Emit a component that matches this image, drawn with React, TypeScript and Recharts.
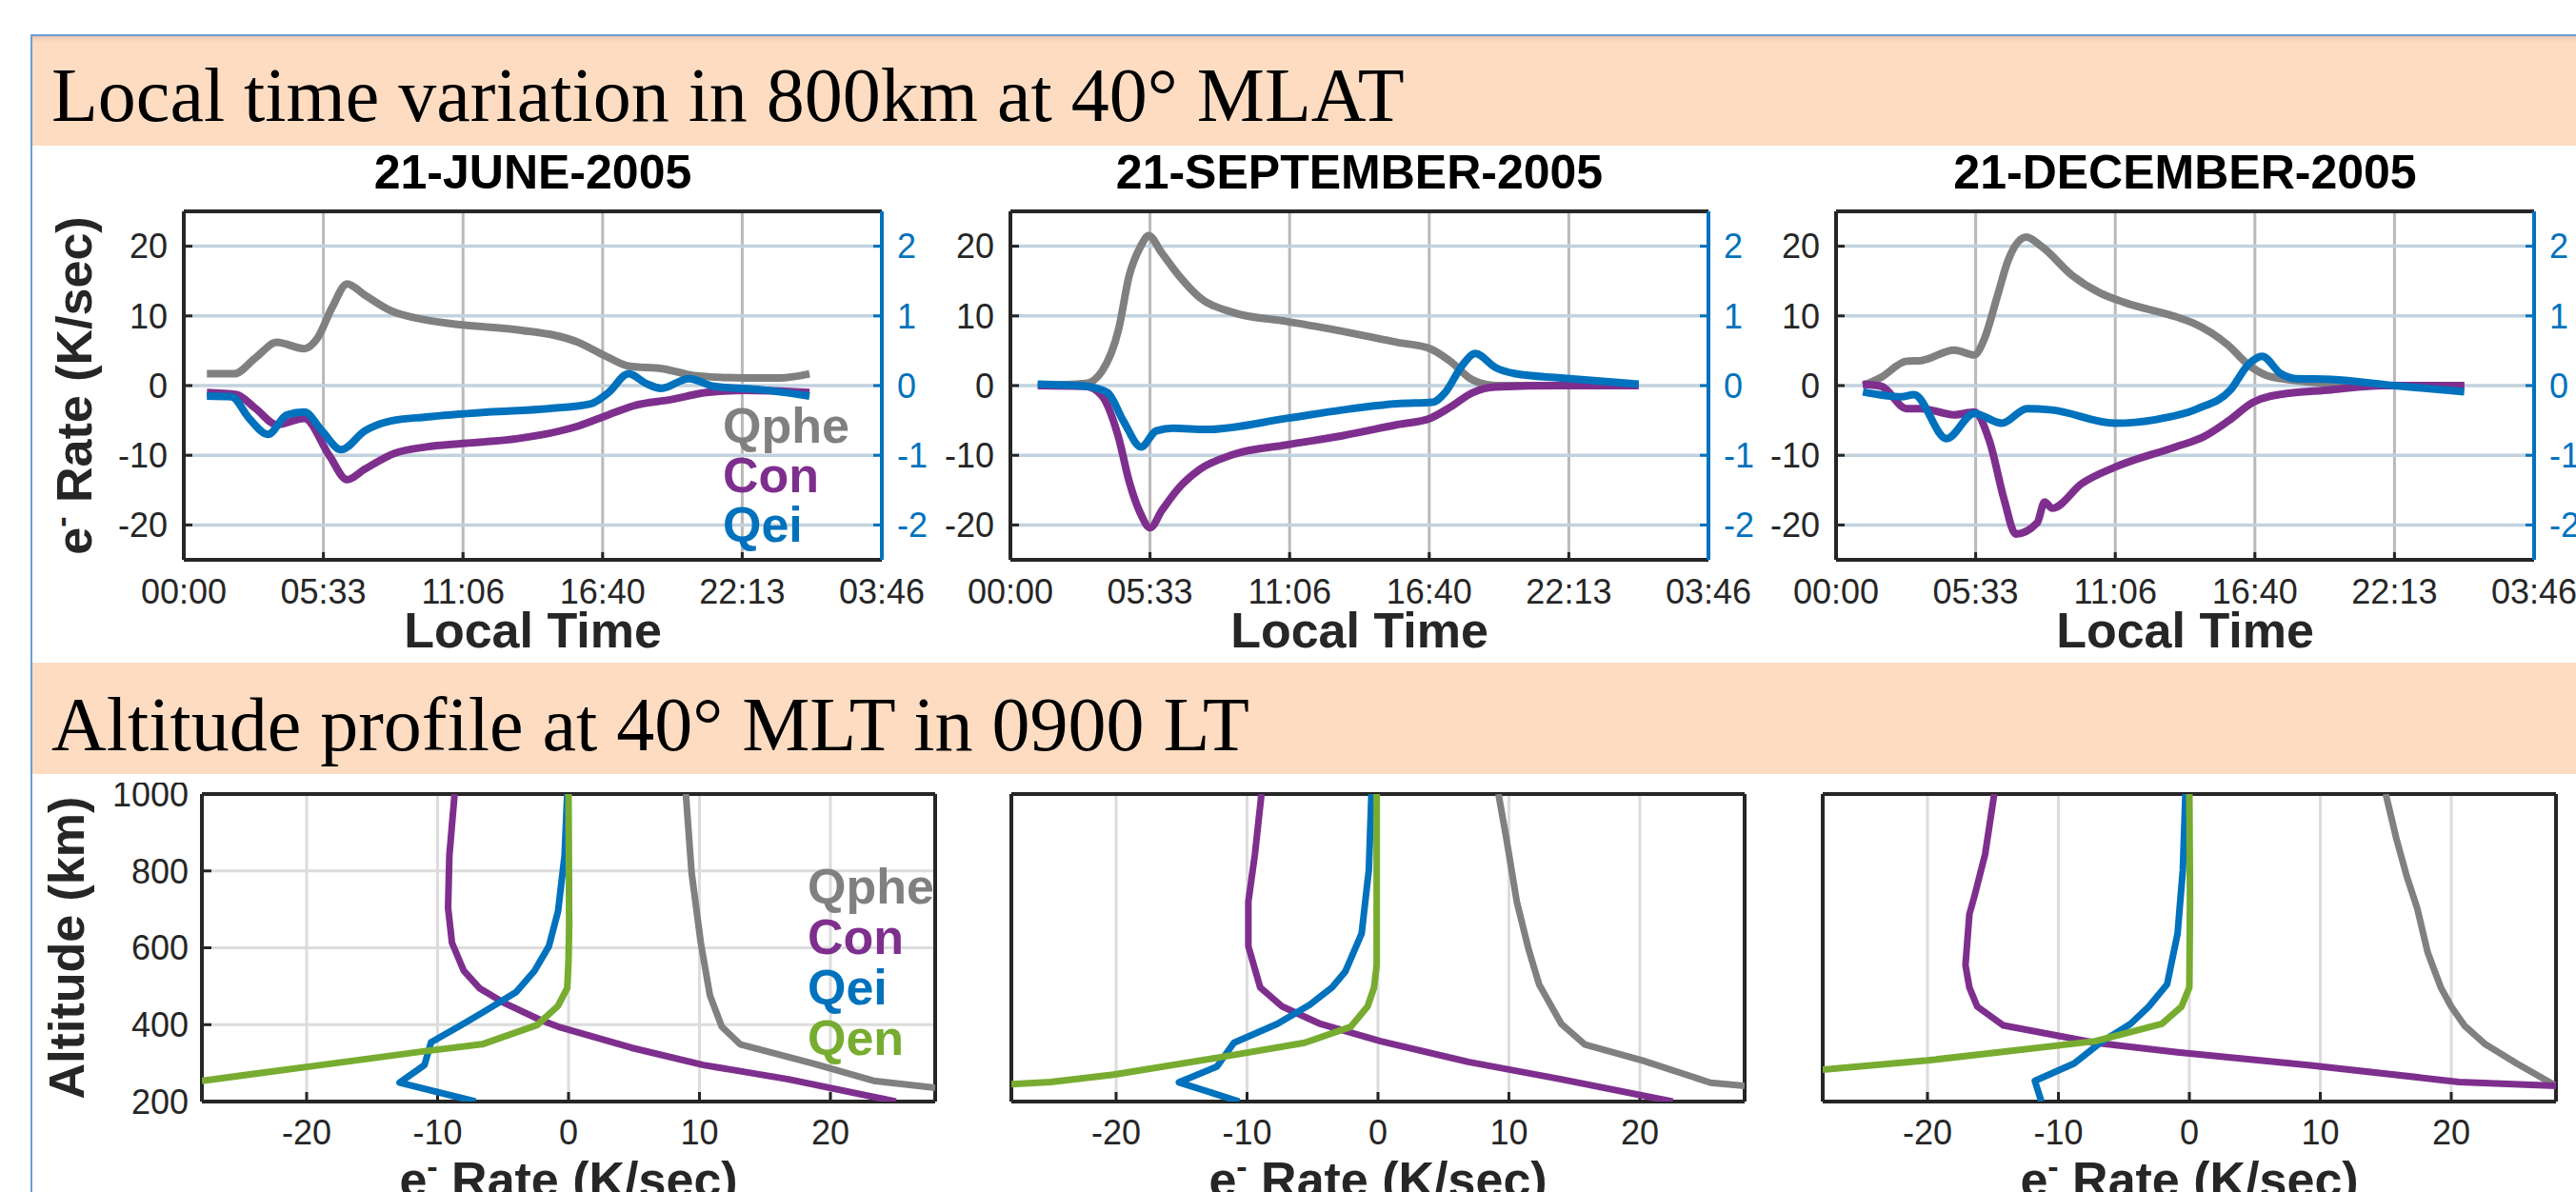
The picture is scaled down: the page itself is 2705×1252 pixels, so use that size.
import React from 'react';
import { ScatterChart, Scatter, XAxis, YAxis, CartesianGrid, Legend } from 'recharts';

// ---- axis ticks ----
const timeTicks = [0, 5.5556, 11.1111, 16.6667, 22.2222, 27.7778];
const timeTickLabels = ['00:00', '05:33', '11:06', '16:40', '22:13', '03:46'];
const rateTicks = [-20, -10, 0, 10, 20];
const qeiTicks = [-2, -1, 0, 1, 2];
const profileRateTicks = [-20, -10, 0, 10, 20];
const altitudeTicks = [200, 400, 600, 800, 1000];

const seasonTitles = ['21-JUNE-2005', '21-SEPTEMBER-2005', '21-DECEMBER-2005'];
const seriesNames = ['Qphe', 'Con', 'Qei', 'Qen'];
const seriesColors = ['#808080', '#7E2F8E', '#0072BD', '#77AC30'];

type Pt = [number, number];

// ---- local time variation: [hour, K/sec]  (Qei in right-axis units) ----
const juneQphe: Pt[] = [[0.92, 1.7], [2.0, 1.7], [2.86, 4.0], [3.7, 6.2], [4.8, 5.3], [5.3, 6.7], [5.9, 11.2], [6.5, 14.6], [7.2, 13.0], [8.2, 10.8], [9.65, 9.4], [11.1, 8.7], [13.3, 8.0], [15.7, 6.2], [16.7, 4.4], [17.7, 2.8], [19.1, 2.4], [20.3, 1.45], [22.3, 1.1], [23.7, 1.1], [24.9, 1.7]];
const juneCon: Pt[] = [[0.92, -1.0], [2.1, -1.3], [2.86, -3.3], [3.7, -5.6], [4.8, -4.7], [5.8, -10.1], [6.5, -13.5], [7.2, -12.0], [8.4, -9.7], [9.65, -8.8], [11.1, -8.3], [13.3, -7.6], [15.7, -5.8], [16.9, -4.2], [17.9, -2.9], [19.4, -2.0], [20.8, -1.0], [22.3, -0.7], [24.9, -1.0]];
const juneQei: Pt[] = [[0.92, -0.15], [1.9, -0.16], [2.6, -0.47], [3.35, -0.7], [4.1, -0.42], [4.8, -0.38], [5.5, -0.65], [6.26, -0.92], [7.2, -0.65], [8.2, -0.51], [9.65, -0.45], [12.1, -0.38], [14.5, -0.33], [16.2, -0.26], [16.9, -0.1], [17.7, 0.17], [18.4, 0.03], [19.0, -0.04], [20.1, 0.1], [21.1, -0.01], [23.0, -0.06], [24.9, -0.15]];

const septQphe: Pt[] = [[1.09, 0], [3.0, 0.3], [3.65, 2.1], [4.3, 8.0], [4.73, 15.8], [5.17, 19.9], [5.5, 21.5], [6.03, 19.0], [6.7, 15.8], [7.55, 12.6], [8.85, 10.5], [11.0, 9.2], [13.2, 7.8], [15.4, 6.2], [16.7, 5.3], [17.5, 3.5], [18.4, 0.8], [19.3, 0], [25.0, 0]];
const septCon: Pt[] = [[1.09, 0], [3.0, -0.1], [3.65, -1.5], [4.3, -7.4], [4.73, -13.8], [5.17, -18.3], [5.56, -20.4], [6.03, -17.9], [6.7, -14.7], [7.55, -12.0], [8.85, -9.9], [11.0, -8.5], [13.2, -7.2], [15.4, -5.6], [16.7, -4.7], [17.5, -3.1], [18.4, -1.0], [19.3, -0.2], [21.9, 0], [25.0, 0]];
const septQei: Pt[] = [[1.09, 0.02], [3.0, -0.01], [3.86, -0.1], [4.5, -0.51], [5.2, -0.88], [5.8, -0.65], [6.47, -0.61], [7.77, -0.63], [11.0, -0.47], [13.2, -0.35], [15.4, -0.26], [16.8, -0.24], [17.3, -0.1], [18.0, 0.3], [18.5, 0.46], [19.3, 0.26], [20.1, 0.17], [21.9, 0.11], [25.0, 0.02]];

const decQphe: Pt[] = [[1.07, 0], [1.8, 1.2], [2.8, 3.5], [3.4, 3.6], [4.7, 5.1], [5.5, 4.4], [5.9, 6.7], [6.4, 12.6], [6.85, 18.0], [7.57, 21.3], [8.2, 19.9], [9.4, 15.8], [10.5, 13.3], [11.5, 11.9], [13.5, 9.9], [14.2, 9.0], [15.6, 5.8], [16.4, 3.0], [17.1, 1.5], [17.7, 1.0], [19.7, 0.3], [22.2, 0], [25.0, 0]];
const decCon: Pt[] = [[1.07, 0.2], [1.8, -0.1], [2.8, -3.3], [3.4, -3.3], [4.7, -4.2], [5.5, -3.8], [6.1, -7.9], [6.7, -16.5], [7.15, -21.3], [8.0, -19.7], [8.3, -16.7], [8.6, -17.6], [9.8, -14.0], [11.1, -11.7], [13.5, -8.8], [14.6, -7.4], [15.6, -5.1], [16.6, -2.4], [17.3, -1.5], [19.7, -0.6], [21.8, 0], [25.0, 0]];
const decQei: Pt[] = [[1.07, -0.09], [2.6, -0.16], [3.1, -0.13], [4.4, -0.76], [5.5, -0.4], [6.6, -0.54], [7.6, -0.33], [8.6, -0.35], [11.1, -0.54], [12.7, -0.49], [14.4, -0.33], [15.7, -0.06], [16.4, 0.3], [16.95, 0.42], [17.7, 0.17], [18.3, 0.1], [19.7, 0.09], [22.2, 0], [25.0, -0.09]];

// ---- altitude profiles: [K/sec, km] ----
const juneProfQphe: Pt[] = [[8.96, 1000], [9.4, 795], [10.1, 613], [10.8, 476], [11.7, 395], [13.1, 349], [18.7, 299], [23.3, 254], [28, 236]];
const juneProfCon: Pt[] = [[-8.7, 1000], [-9.1, 840], [-9.2, 704], [-8.9, 613], [-8.0, 540], [-6.8, 495], [-5.0, 458], [-2.2, 413], [-0.8, 395], [4.8, 340], [10.3, 295], [16.8, 258], [25.0, 200]];
const juneProfQei: Pt[] = [[-0.1, 1000], [-0.3, 840], [-0.8, 695], [-1.5, 604], [-2.6, 540], [-4.0, 485], [-6.4, 435], [-8.2, 399], [-10.5, 354], [-11.0, 295], [-12.9, 249], [-7.1, 200]];
const juneProfQen: Pt[] = [[0, 1000], [0.05, 658], [0, 567], [-0.1, 495], [-0.8, 449], [-2.4, 399], [-6.6, 349], [-11.0, 331], [-18.9, 295], [-28, 254]];

const septProfQphe: Pt[] = [[9.2, 1000], [9.8, 885], [10.6, 720], [11.5, 596], [12.3, 505], [14.0, 402], [15.8, 348], [20.2, 307], [25.4, 249], [28, 241]];
const septProfCon: Pt[] = [[-8.9, 1000], [-9.4, 843], [-9.9, 720], [-9.9, 604], [-9.0, 497], [-7.3, 447], [-4.4, 402], [0.2, 357], [6.9, 303], [14.0, 258], [22.5, 200]];
const septProfQei: Pt[] = [[-0.5, 1000], [-0.7, 802], [-1.25, 637], [-2.5, 538], [-3.5, 497], [-5.2, 452], [-7.7, 402], [-11.0, 353], [-12.3, 291], [-15.2, 250], [-10.6, 200]];
const septProfQen: Pt[] = [[-0.1, 1000], [-0.1, 720], [-0.1, 555], [-0.3, 497], [-0.8, 447], [-2.1, 394], [-5.6, 353], [-11.9, 316], [-20.2, 270], [-25, 251], [-28, 245]];

const decProfQphe: Pt[] = [[15.0, 1000], [15.8, 885], [16.6, 786], [17.4, 703], [18.2, 588], [19.2, 497], [20.0, 447], [21.0, 398], [22.6, 349], [25.0, 299], [28, 241]];
const decProfCon: Pt[] = [[-14.9, 1000], [-15.6, 843], [-16.4, 736], [-16.8, 687], [-17.1, 555], [-16.8, 497], [-16.2, 447], [-14.2, 398], [-7.2, 353], [-0.9, 328], [9.1, 295], [20.6, 251], [28, 241]];
const decProfQei: Pt[] = [[-0.3, 1000], [-0.5, 802], [-0.9, 637], [-1.7, 505], [-3.1, 447], [-4.5, 402], [-6.8, 353], [-8.8, 299], [-11.8, 254], [-11.3, 200]];
const decProfQen: Pt[] = [[0, 1000], [0.05, 720], [0, 497], [-0.6, 447], [-2.1, 402], [-7.2, 357], [-20, 307], [-28, 283]];

const SANS = '"Liberation Sans", Arial, Helvetica, sans-serif';
const SERIF = '"Liberation Serif", "Times New Roman", serif';
const INK = '#262626';
const BLUE = '#0072BD';

const toXY = (pts: Pt[]) => pts.map(([x, y]) => ({ x, y }));
const noDot = () => <g />;
const timeLabel = (v: number) => {
  let best = 0;
  timeTicks.forEach((t, i) => { if (Math.abs(t - v) < Math.abs(timeTicks[best] - v)) best = i; });
  return timeTickLabels[best];
};

// legend: coloured names only, in plotting order
const LegendText = ({ count, size, lh }: { count: number; size: number; lh: number }) => (
  <div style={{ fontFamily: SANS, fontWeight: 700, fontSize: size, lineHeight: `${lh}px`, whiteSpace: 'nowrap' }}>
    {seriesNames.slice(0, count).map((n, i) => (
      <div key={n} style={{ color: seriesColors[i] }}>{n}</div>
    ))}
  </div>
);

// top row geometry (page pixels)
const TP = { top: 222, width: 733, height: 366, padL: 120, padR: 70, padT: 12, padB: 70 };
const topLefts = [193, 1061, 1928];

function TimePanel({ plotLeft, qphe, con, qei, legend }: { plotLeft: number; qphe: Pt[]; con: Pt[]; qei: Pt[]; legend?: boolean }) {
  const w = TP.padL + TP.width + TP.padR;
  const h = TP.padT + TP.height + TP.padB;
  const left = plotLeft - TP.padL;
  const top = TP.top - TP.padT;
  const tickStyle = { fill: INK, fontSize: 36, fontFamily: SANS };
  const lineStyle = (i: number) => ({ stroke: seriesColors[i], strokeWidth: 8, strokeLinejoin: 'round' as const });
  return (
    <div style={{ position: 'absolute', left, top }}>
      <ScatterChart width={w} height={h} margin={{ top: 0, right: 0, bottom: 0, left: 0 }}>
        <CartesianGrid xAxisId="b" yAxisId="l" horizontal={false} stroke="#b9b9b9" strokeWidth={3} />
        <CartesianGrid xAxisId="b" yAxisId="l" vertical={false} stroke="#c2d2de" strokeWidth={3.5} />
        <XAxis xAxisId="b" type="number" dataKey="x" domain={[0, 27.7778]} allowDataOverflow ticks={timeTicks} interval={0}
          tickFormatter={timeLabel} height={TP.padB} tickSize={-8} tickMargin={28} tick={tickStyle}
          axisLine={{ stroke: INK, strokeWidth: 4 }} tickLine={{ stroke: INK, strokeWidth: 3 }} />
        <XAxis xAxisId="t" orientation="top" type="number" dataKey="x" domain={[0, 27.7778]} allowDataOverflow ticks={timeTicks} interval={0}
          height={TP.padT} tickSize={-8} tick={false}
          axisLine={{ stroke: INK, strokeWidth: 4 }} tickLine={{ stroke: INK, strokeWidth: 3 }} />
        <YAxis yAxisId="l" type="number" dataKey="y" domain={[-25, 25]} allowDataOverflow ticks={rateTicks} interval={0}
          width={TP.padL} tickSize={-9} tickMargin={26} tick={tickStyle}
          axisLine={{ stroke: INK, strokeWidth: 4 }} tickLine={{ stroke: INK, strokeWidth: 3 }} />
        <YAxis yAxisId="r" orientation="right" type="number" dataKey="y" domain={[-2.5, 2.5]} allowDataOverflow ticks={qeiTicks} interval={0}
          width={TP.padR} tickSize={-9} tickMargin={25} tick={{ ...tickStyle, fill: BLUE }}
          axisLine={{ stroke: BLUE, strokeWidth: 4 }} tickLine={{ stroke: BLUE, strokeWidth: 3 }} />
        <Scatter name={seriesNames[0]} data={toXY(qphe)} xAxisId="b" yAxisId="l" fill={seriesColors[0]}
          line={lineStyle(0)} lineJointType="monotoneX" shape={noDot} isAnimationActive={false} />
        <Scatter name={seriesNames[1]} data={toXY(con)} xAxisId="b" yAxisId="l" fill={seriesColors[1]}
          line={lineStyle(1)} lineJointType="monotoneX" shape={noDot} isAnimationActive={false} />
        <Scatter name={seriesNames[2]} data={toXY(qei)} xAxisId="b" yAxisId="r" fill={seriesColors[2]}
          line={lineStyle(2)} lineJointType="monotoneX" shape={noDot} isAnimationActive={false} />
        {legend && (
          <Legend layout="vertical" align="center" verticalAlign="middle"
            wrapperStyle={{ left: 759 - left, top: 421 - top, width: 200, height: 'auto' }}
            content={() => <LegendText count={3} size={52} lh={52} />} />
        )}
      </ScatterChart>
    </div>
  );
}

// bottom row geometry
const BP = { top: 834, width: 770, height: 323, padL: 120, padR: 20, padT: 12, padB: 80 };
const bottomLefts = [212, 1062, 1914];

function ProfilePanel({ plotLeft, qphe, con, qei, qen, altLabels, legend }: { plotLeft: number; qphe: Pt[]; con: Pt[]; qei: Pt[]; qen: Pt[]; altLabels?: boolean; legend?: boolean }) {
  const w = BP.padL + BP.width + BP.padR;
  const h = BP.padT + BP.height + BP.padB;
  const left = plotLeft - BP.padL;
  const top = BP.top - BP.padT;
  const tickStyle = { fill: INK, fontSize: 36, fontFamily: SANS };
  const lineStyle = (i: number) => ({ stroke: seriesColors[i], strokeWidth: 7, strokeLinejoin: 'round' as const });
  const series = [qphe, con, qei, qen];
  return (
    <div style={{ position: 'absolute', left, top }}>
      <ScatterChart width={w} height={h} margin={{ top: 0, right: 0, bottom: 0, left: 0 }}>
        <CartesianGrid xAxisId="b" yAxisId="l" stroke="#dcdcdc" strokeWidth={3} />
        <XAxis xAxisId="b" type="number" dataKey="x" domain={[-28, 28]} allowDataOverflow ticks={profileRateTicks} interval={0}
          height={BP.padB} tickSize={-10} tickMargin={29} tick={tickStyle}
          axisLine={{ stroke: INK, strokeWidth: 4 }} tickLine={{ stroke: INK, strokeWidth: 3 }} />
        <XAxis xAxisId="t" orientation="top" type="number" dataKey="x" domain={[-28, 28]} allowDataOverflow ticks={profileRateTicks} interval={0}
          height={BP.padT} tickSize={-10} tick={false}
          axisLine={{ stroke: INK, strokeWidth: 4 }} tickLine={{ stroke: INK, strokeWidth: 3 }} />
        <YAxis yAxisId="l" type="number" dataKey="y" domain={[200, 1000]} allowDataOverflow ticks={altitudeTicks} interval={0}
          width={BP.padL} tickSize={-10} tickMargin={24} tick={altLabels ? tickStyle : false}
          axisLine={{ stroke: INK, strokeWidth: 4 }} tickLine={{ stroke: INK, strokeWidth: 3 }} />
        <YAxis yAxisId="r" orientation="right" type="number" dataKey="y" domain={[200, 1000]} allowDataOverflow ticks={altitudeTicks} interval={0}
          width={BP.padR} tickSize={-10} tick={false}
          axisLine={{ stroke: INK, strokeWidth: 4 }} tickLine={{ stroke: INK, strokeWidth: 3 }} />
        {series.map((s, i) => (
          <Scatter key={seriesNames[i]} name={seriesNames[i]} data={toXY(s)} xAxisId="b" yAxisId="l" fill={seriesColors[i]}
            line={lineStyle(i)} lineJointType="linear" shape={noDot} isAnimationActive={false} />
        ))}
        {legend && (
          <Legend layout="vertical" align="center" verticalAlign="middle"
            wrapperStyle={{ left: 848 - left, top: 905 - top, width: 200, height: 'auto' }}
            content={() => <LegendText count={4} size={52} lh={53} />} />
        )}
      </ScatterChart>
    </div>
  );
}

const ERate = ({ x, y, rotate }: { x: number; y: number; rotate?: boolean }) => (
  <text transform={rotate ? `translate(${x} ${y}) rotate(-90)` : `translate(${x} ${y})`} textAnchor="middle"
    fontFamily={SANS} fontWeight={700} fontSize={52} fill={INK}>
    <tspan>e</tspan>
    <tspan dy={-20} fontSize={34}>-</tspan>
    <tspan dy={20}> Rate (K/sec)</tspan>
  </text>
);

export default function App() {
  const band = (top: number, height: number, shadow: boolean): React.CSSProperties => ({
    position: 'absolute', left: 34, top, width: 2671, height, background: '#FDDCC2',
    boxShadow: shadow ? 'inset 0 5px 5px -3px rgba(0,0,0,0.12)' : 'none',
  });
  return (
    <div style={{ position: 'relative', width: 2705, height: 1252, overflow: 'hidden', background: '#fff' }}>
      <style>{'body{margin:0;overflow:hidden}'}</style>
      <div style={{ position: 'absolute', left: 32, top: 36, width: 2700, height: 1300, borderLeft: '2px solid #6d9dd4', borderTop: '2px solid #6d9dd4' }} />
      <div style={band(38, 115, true)} />
      <div style={band(696, 117, false)} />

      <TimePanel plotLeft={topLefts[0]} qphe={juneQphe} con={juneCon} qei={juneQei} legend />
      <TimePanel plotLeft={topLefts[1]} qphe={septQphe} con={septCon} qei={septQei} />
      <TimePanel plotLeft={topLefts[2]} qphe={decQphe} con={decCon} qei={decQei} />

      <ProfilePanel plotLeft={bottomLefts[0]} qphe={juneProfQphe} con={juneProfCon} qei={juneProfQei} qen={juneProfQen} altLabels legend />
      <ProfilePanel plotLeft={bottomLefts[1]} qphe={septProfQphe} con={septProfCon} qei={septProfQei} qen={septProfQen} />
      <ProfilePanel plotLeft={bottomLefts[2]} qphe={decProfQphe} con={decProfCon} qei={decProfQei} qen={decProfQen} />

      <svg width={2705} height={1252} style={{ position: 'absolute', left: 0, top: 0, pointerEvents: 'none' }}>
        <text x={54} y={127} fontFamily={SERIF} fontSize={80} fill="#000">Local time variation in 800km at 40° MLAT</text>
        <text x={54} y={788} fontFamily={SERIF} fontSize={80} fill="#000">Altitude profile at 40° MLT in 0900 LT</text>
        {seasonTitles.map((t, i) => (
          <text key={t} x={topLefts[i] + TP.width / 2} y={198} textAnchor="middle" fontFamily={SANS} fontWeight={700} fontSize={50} fill="#000">{t}</text>
        ))}
        {topLefts.map((l) => (
          <text key={l} x={l + TP.width / 2} y={680} textAnchor="middle" fontFamily={SANS} fontWeight={700} fontSize={52} fill={INK}>Local Time</text>
        ))}
        <ERate x={96} y={TP.top + TP.height / 2} rotate />
        {bottomLefts.map((l) => (
          <ERate key={l} x={l + BP.width / 2} y={1257} />
        ))}
        <text transform={`translate(88 ${BP.top + BP.height / 2}) rotate(-90)`} textAnchor="middle"
          fontFamily={SANS} fontWeight={700} fontSize={52} fill={INK}>Altitude (km)</text>
      </svg>
    </div>
  );
}
